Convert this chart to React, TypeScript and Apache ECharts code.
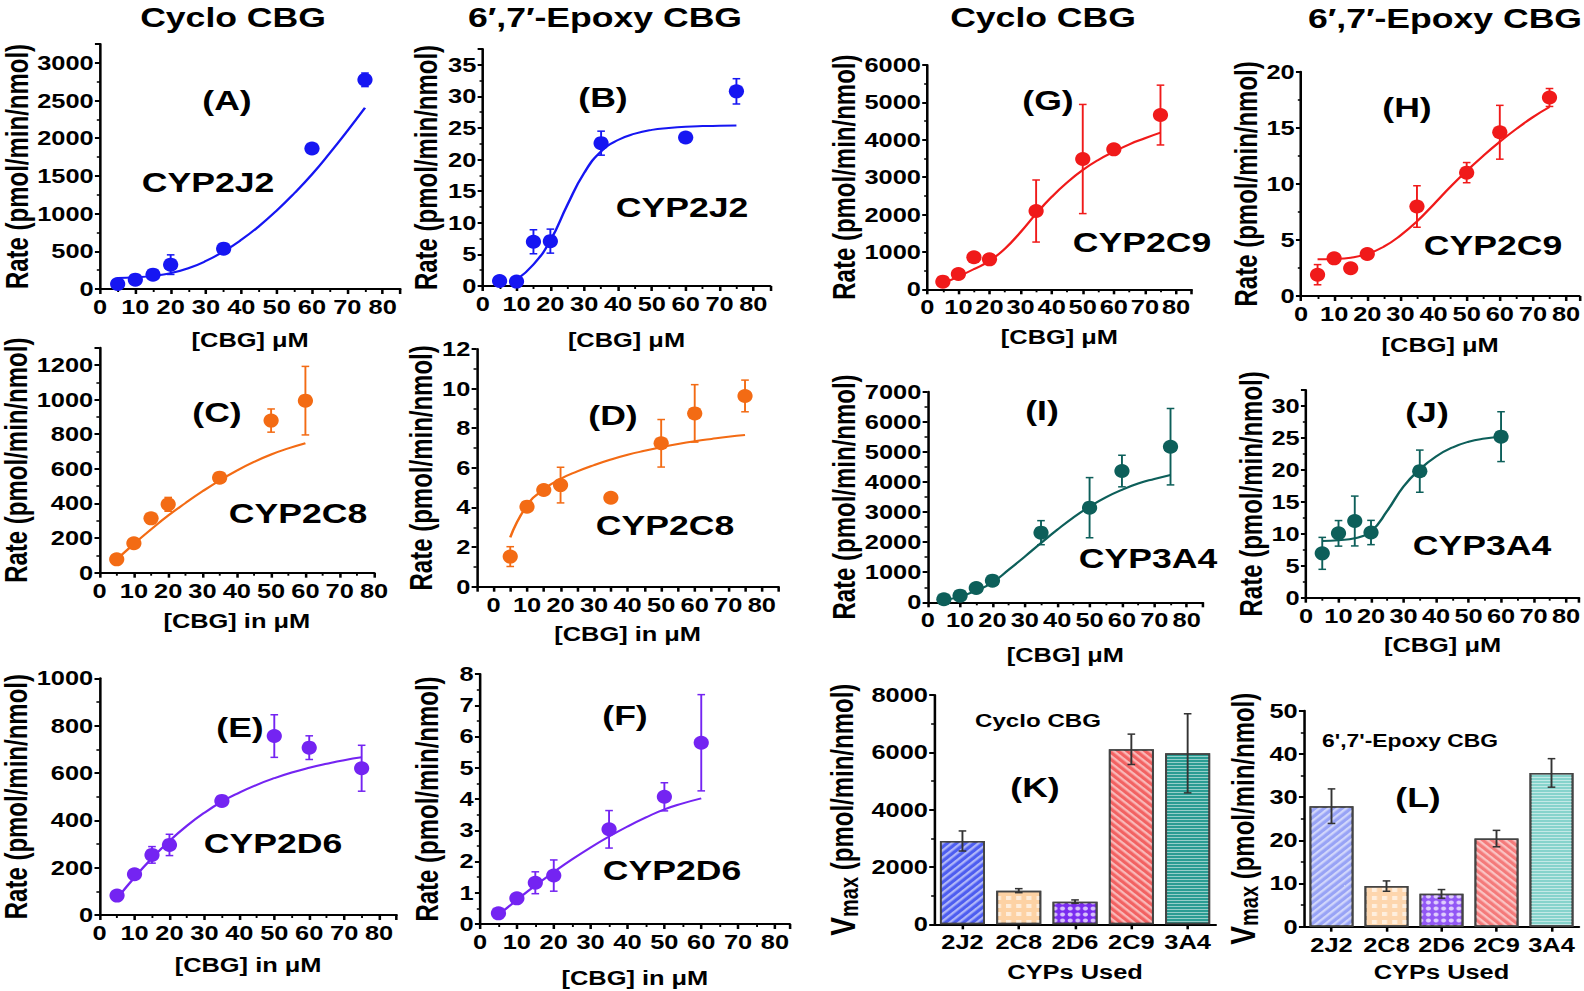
import React, { useEffect, useRef } from "react";
import * as echarts from "echarts";

const W = 1584;
const H = 991;
const CW = 1247;
const S = W / CW;
const FONT = '"Liberation Sans", Arial, Helvetica, sans-serif';

// ---------- data ----------
const cbg8 = [5, 10, 15, 20, 35, 50, 60, 75];
const cbgA = [5, 10, 15, 20, 35, 60, 75];
const cbgC = [5, 10, 15, 20, 35, 50, 60];
const cbgJ = [5, 10, 15, 20, 35, 60];
const fitX75 = [5, 10, 15, 20, 25, 30, 35, 40, 45, 50, 55, 60, 65, 70, 75];
const fitX60 = [5, 10, 15, 20, 25, 30, 35, 40, 45, 50, 55, 60];
const fitXB = [10, 15, 20, 25, 30, 35, 40, 45, 50, 55, 60, 65, 70, 75];

// (A) Cyclo CBG, CYP2J2
const rateA = [66, 124, 190, 323, 535, 1863, 2775];
const errA = [0, 0, 0, 130, 0, 0, 90];
const fitA = [146, 156, 174, 210, 275, 372, 498, 652, 833, 1040, 1270, 1520, 1800, 2095, 2403];
// (B) Epoxy CBG, CYP2J2
const rateB = [0.8, 0.7, 7.0, 7.1, 22.6, 23.5, 30.8];
const errB = [0, 0, 1.9, 1.9, 1.9, 0, 2.0];
const fitB = [1.0, 3.4, 7.2, 12.8, 17.9, 21.3, 23.1, 24.1, 24.7, 25.0, 25.2, 25.3, 25.35, 25.4];
// (C) Cyclo CBG, CYP2C8
const rateC = [77, 170, 314, 395, 549, 879, 994];
const errC = [0, 20, 0, 40, 0, 67, 198];
const fitC = [77, 166, 250, 330, 402, 470, 533, 590, 640, 683, 718, 748];
// (D) Epoxy CBG, CYP2C8
const rateD = [1.52, 4.04, 4.88, 5.13, 4.49, 7.24, 8.75, 9.63];
const errD = [0.5, 0, 0, 0.9, 0, 1.2, 1.45, 0.8];
const fitD = [2.49, 4.1, 4.92, 5.44, 5.82, 6.14, 6.42, 6.66, 6.86, 7.04, 7.2, 7.34, 7.46, 7.57, 7.66];
// (E) Cyclo CBG, CYP2D6
const rateE = [82, 172, 254, 296, 482, 756, 707, 620];
const errE = [0, 0, 35, 45, 0, 90, 50, 97];
const fitE = [70, 159, 240, 313, 377, 432, 479, 517, 550, 578, 602, 622, 639, 654, 666];
// (F) Epoxy CBG, CYP2D6
const rateF = [0.34, 0.82, 1.32, 1.55, 3.03, 4.07, 5.8];
const errF = [0, 0, 0.35, 0.5, 0.6, 0.45, 1.54];
const fitF = [0.29, 0.77, 1.23, 1.66, 2.07, 2.45, 2.8, 3.12, 3.41, 3.67, 3.86, 4.02];
// (G) Cyclo CBG, CYP2C9
const rateG = [205, 410, 856, 802, 2094, 3485, 3743, 4661];
const errG = [0, 0, 60, 0, 830, 1460, 120, 800];
const fitG = [160, 340, 540, 760, 1090, 1530, 2020, 2470, 2860, 3190, 3460, 3680, 3880, 4040, 4189];
// (H) Epoxy CBG, CYP2C9
const rateH = [1.9, 3.36, 2.47, 3.75, 7.98, 11.0, 14.6, 17.7];
const errH = [0.9, 0, 0, 0, 1.85, 0.9, 2.4, 0.8];
const fitH = [3.27, 3.3, 3.42, 3.75, 4.4, 5.4, 6.65, 8.15, 9.7, 11.15, 12.5, 13.75, 14.9, 15.95, 16.85];
// (I) Cyclo CBG, CYP3A4
const rateI = [100, 221, 476, 720, 2314, 3145, 4363, 5172];
const errI = [0, 0, 0, 0, 400, 1000, 525, 1270];
const fitI = [78, 188, 388, 660, 1080, 1520, 1970, 2410, 2820, 3180, 3490, 3740, 3950, 4100, 4230];
// (J) Epoxy CBG, CYP3A4
const rateJ = [6.94, 10.07, 12.0, 10.2, 19.8, 25.2];
const errJ = [2.5, 2.0, 3.9, 1.9, 3.3, 3.9];
const fitJ = [8.87, 9.0, 9.3, 10.4, 13.6, 17.4, 20.1, 22.1, 23.5, 24.4, 24.9, 25.2];

// (K), (L) Vmax bars
const cyps = ["2J2", "2C8", "2D6", "2C9", "3A4"];
const vmaxK = [2907, 1174, 791, 6105, 5965];
const vmaxKErr = [350, 70, 60, 530, 1380];
const vmaxL = [27.9, 9.4, 7.6, 20.4, 35.6];
const vmaxLErr = [4.0, 1.2, 1.0, 1.9, 3.3];

// ---------- styles ----------
const BLUE = "#1616f2";
const ORANGE = "#f36b14";
const PURPLE = "#7424f2";
const RED = "#f01a1a";
const TEAL = "#0d5f5a";

const scatterPanels = [
  { color: BLUE, axisX: 100, axisY: 289, top: 44, xmin: 0, xmax: 85, per: 3.533, xint: 10, ymax: 3250, yint: 500, xs: cbgA, ys: rateA, errs: errA, fx: fitX75, fy: fitA, xName: "[CBG] μM", xGap: 41, yGap: 53 },
  { color: BLUE, axisX: 482.7, axisY: 286, top: 49, xmin: 0, xmax: 85, per: 3.383, xint: 10, ymax: 37.5, yint: 5, xs: cbgA, ys: rateB, errs: errB, fx: fitXB, fy: fitB, xName: "[CBG] μM", xGap: 44, yGap: 32 },
  { color: ORANGE, axisX: 87.3, axisY: 572.7, top: 347.7, xmin: 0, xmax: 80, per: 3.584, xint: 10, ymax: 1300, yint: 200, xs: cbgC, ys: rateC, errs: errC, fx: fitX60, fy: fitC, xName: "[CBG] in μM", xGap: 38, yGap: 51 },
  { color: ORANGE, axisX: 476.7, axisY: 586.7, top: 349, xmin: -5, xmax: 85, per: 3.354, xint: 5, ymax: 12, yint: 2, xs: cbg8, ys: rateD, errs: errD, fx: fitX75, fy: fitD, xName: "[CBG] in μM", xGap: 37, yGap: 31 },
  { color: PURPLE, axisX: 86, axisY: 915, top: 678.3, xmin: 0, xmax: 85, per: 3.654, xint: 10, ymax: 1000, yint: 200, xs: cbg8, ys: rateE, errs: errE, fx: fitX75, fy: fitE, xName: "[CBG] in μM", xGap: 40, yGap: 50 },
  { color: PURPLE, axisX: 480, axisY: 924, top: 674, xmin: 0, xmax: 84, per: 3.6875, xint: 10, ymax: 8, yint: 1, xs: cbgC, ys: rateF, errs: errF, fx: fitX60, fy: fitF, xName: "[CBG] in μM", xGap: 44, yGap: 29 },
  { color: RED, axisX: 927.3, axisY: 289.3, top: 65, xmin: 0, xmax: 85, per: 3.109, xint: 10, ymax: 6000, yint: 1000, xs: cbg8, ys: rateG, errs: errG, fx: fitX75, fy: fitG, xName: "[CBG] μM", xGap: 38, yGap: 49 },
  { color: RED, axisX: 1301, axisY: 296, top: 71.7, xmin: 0, xmax: 84, per: 3.321, xint: 10, ymax: 20, yint: 5, xs: cbg8, ys: rateH, errs: errH, fx: fitX75, fy: fitH, xName: "[CBG] μM", xGap: 39, yGap: 31 },
  { color: TEAL, axisX: 927.7, axisY: 602.3, top: 391.7, xmin: 0, xmax: 85, per: 3.2375, xint: 10, ymax: 7000, yint: 1000, xs: cbg8, ys: rateI, errs: errI, fx: fitX75, fy: fitI, xName: "[CBG] μM", xGap: 43, yGap: 48 },
  { color: TEAL, axisX: 1306, axisY: 597.7, top: 390, xmin: 0, xmax: 84, per: 3.258, xint: 10, ymax: 32.5, yint: 5, xs: cbgJ, ys: rateJ, errs: errJ, fx: fitX60, fy: fitJ, xName: "[CBG] μM", xGap: 37, yGap: 31 },
];

const barPanels = [
  { axisX: 934.3, axisY: 924.3, top: 695, width: 281.5, ymax: 8000, yint: 2000, vals: vmaxK, errs: vmaxKErr, colors: ["#4d5df0", "#fdd2a4", "#7a2cf0", "#f26262", "#2a9c93"], xGap: 38, yGap: 57 },
  { axisX: 1304, axisY: 926.7, top: 710.7, width: 275, ymax: 50, yint: 10, vals: vmaxL, errs: vmaxLErr, colors: ["#98a3f6", "#fdd6ae", "#9257f5", "#f47a7a", "#86d3cc"], xGap: 35, yGap: 33 },
];

const decals = [
  { symbol: "rect", symbolSize: 1, dashArrayX: [1, 0], dashArrayY: [2, 3], rotation: -Math.PI / 4, color: "rgba(255,255,255,0.55)" },
  { symbol: "rect", symbolSize: 1, dashArrayX: [4, 4], dashArrayY: [4, 4], rotation: 0, color: "rgba(255,255,255,0.6)" },
  { symbol: "circle", symbolSize: 0.8, dashArrayX: [5, 1], dashArrayY: [5, 1], rotation: 0, color: "rgba(255,255,255,0.7)" },
  { symbol: "rect", symbolSize: 1, dashArrayX: [1, 0], dashArrayY: [2, 3], rotation: Math.PI / 4, color: "rgba(255,255,255,0.55)" },
  { symbol: "rect", symbolSize: 1, dashArrayX: [1, 0], dashArrayY: [1, 2], rotation: 0, color: "rgba(255,255,255,0.5)" },
];

const labels: [string, number, number, number][] = [
  ["Cyclo CBG", 233, 17, 28],
  ["6′,7′-Epoxy CBG", 605, 17, 28],
  ["Cyclo CBG", 1043, 17, 28],
  ["6′,7′-Epoxy CBG", 1445, 18, 28],
  ["(A)", 227, 100, 28], ["CYP2J2", 208, 182, 28],
  ["(B)", 603, 97, 28], ["CYP2J2", 682, 207, 28],
  ["(G)", 1048, 100, 28], ["CYP2C9", 1142, 242, 28],
  ["(H)", 1407, 107, 28], ["CYP2C9", 1493, 245, 28],
  ["(C)", 217, 412, 28], ["CYP2C8", 298, 513, 28],
  ["(D)", 613, 415, 28], ["CYP2C8", 665, 525, 28],
  ["(I)", 1042, 410, 28], ["CYP3A4", 1148, 558, 28],
  ["(J)", 1427, 412, 28], ["CYP3A4", 1482, 545, 28],
  ["(E)", 240, 727, 28], ["CYP2D6", 273, 843, 28],
  ["(F)", 625, 715, 28], ["CYP2D6", 672, 870, 28],
  ["Cyclo CBG", 1038, 720, 19], ["(K)", 1035, 787, 28],
  ["6',7'-Epoxy CBG", 1410, 740, 18], ["(L)", 1418, 797, 28],
];

const stepFmt = (step: number) => (v: number) =>
  Math.abs(v / step - Math.round(v / step)) < 1e-6 ? String(Math.round(v * 1000) / 1000) : "";

const axisLineStyle = { color: "#000", width: 2 };
const labelStyle = { fontSize: 20, fontWeight: "bold" as const, color: "#000", fontFamily: FONT };

function errRender(color: string, cap: number) {
  return (params: any, api: any) => {
    const x = api.value(0);
    const y = api.value(1);
    const e = api.value(2);
    if (!e) return { type: "group", children: [] };
    const t = api.coord([x, y + e]);
    const b = api.coord([x, y - e]);
    const st = { stroke: color, lineWidth: 1.5 };
    return {
      type: "group",
      children: [
        { type: "line", shape: { x1: t[0], y1: t[1], x2: b[0], y2: b[1] }, style: st },
        { type: "line", shape: { x1: t[0] - cap, y1: t[1], x2: t[0] + cap, y2: t[1] }, style: st },
        { type: "line", shape: { x1: b[0] - cap, y1: b[1], x2: b[0] + cap, y2: b[1] }, style: st },
      ],
    };
  };
}

function buildOption() {
  const grid: any[] = [];
  const xAxis: any[] = [];
  const yAxis: any[] = [];
  const series: any[] = [];

  scatterPanels.forEach((p, i) => {
    grid.push({
      left: p.axisX / S,
      top: p.top,
      width: ((p.xmax - p.xmin) * p.per) / S,
      height: p.axisY - p.top,
    });
    xAxis.push({
      gridIndex: i,
      type: "value",
      min: p.xmin,
      max: p.xmax,
      interval: p.xint,
      axisLine: { show: true, onZero: false, lineStyle: axisLineStyle },
      axisTick: { show: true, inside: false, length: 5, lineStyle: { color: "#000", width: 2 } },
      minorTick: { show: p.xint === 10, splitNumber: 2, length: 3, lineStyle: { color: "#000", width: 1.5 } },
      splitLine: { show: false },
      axisLabel: { ...labelStyle, margin: 8, formatter: stepFmt(10) },
      name: p.xName,
      nameLocation: "middle",
      nameGap: p.xGap,
      nameTextStyle: { ...labelStyle },
    });
    yAxis.push({
      gridIndex: i,
      type: "value",
      min: 0,
      max: p.ymax,
      interval: p.yint,
      axisLine: { show: true, onZero: false, lineStyle: axisLineStyle },
      axisTick: { show: true, inside: false, length: 4, lineStyle: { color: "#000", width: 2 } },
      minorTick: { show: true, splitNumber: 2, length: 2.5, lineStyle: { color: "#000", width: 1.5 } },
      splitLine: { show: false },
      axisLabel: { ...labelStyle, margin: 5, formatter: stepFmt(p.yint) },
      name: "Rate (pmol/min/nmol)",
      nameLocation: "middle",
      nameGap: p.yGap,
      nameTextStyle: { ...labelStyle, fontSize: 24 },
    });
    series.push({
      type: "line",
      xAxisIndex: i,
      yAxisIndex: i,
      data: p.fx.map((x, k) => [x, p.fy[k]]),
      smooth: 0.5,
      symbol: "none",
      lineStyle: { color: p.color, width: 2 },
      z: 2,
    });
    series.push({
      type: "custom",
      xAxisIndex: i,
      yAxisIndex: i,
      data: p.xs.map((x, k) => [x, p.ys[k], p.errs[k]]),
      encode: { x: 0, y: 1 },
      renderItem: errRender(p.color, 3),
      z: 3,
    });
    series.push({
      type: "scatter",
      xAxisIndex: i,
      yAxisIndex: i,
      data: p.xs.map((x, k) => [x, p.ys[k]]),
      symbol: "circle",
      symbolSize: [12, 14],
      itemStyle: { color: p.color, opacity: 1 },
      z: 4,
    });
  });

  barPanels.forEach((b, j) => {
    const i = scatterPanels.length + j;
    grid.push({ left: b.axisX / S, top: b.top, width: b.width / S, height: b.axisY - b.top });
    xAxis.push({
      gridIndex: i,
      type: "category",
      data: cyps,
      axisLine: { show: true, onZero: false, lineStyle: axisLineStyle },
      axisTick: { show: true, alignWithLabel: true, inside: false, length: 5, lineStyle: { color: "#000", width: 2 } },
      axisLabel: { ...labelStyle, margin: 8, interval: 0 },
      name: "CYPs Used",
      nameLocation: "middle",
      nameGap: b.xGap,
      nameTextStyle: { ...labelStyle },
    });
    yAxis.push({
      gridIndex: i,
      type: "value",
      min: 0,
      max: b.ymax,
      interval: b.yint,
      axisLine: { show: true, onZero: false, lineStyle: axisLineStyle },
      axisTick: { show: true, inside: false, length: 4, lineStyle: { color: "#000", width: 2 } },
      minorTick: { show: true, splitNumber: 2, length: 2.5, lineStyle: { color: "#000", width: 1.5 } },
      splitLine: { show: false },
      axisLabel: { ...labelStyle, margin: 5, formatter: stepFmt(b.yint) },
      name: "{v|V}{s|max} (pmol/min/nmol)",
      nameLocation: "middle",
      nameGap: b.yGap,
      nameTextStyle: {
        ...labelStyle,
        fontSize: 24,
        rich: {
          v: { fontSize: 28, fontWeight: "bold", fontFamily: FONT, color: "#000" },
          s: { fontSize: 20, fontWeight: "bold", fontFamily: FONT, color: "#000", verticalAlign: "bottom", padding: [10, 0, 0, 0] },
        },
      },
    });
    series.push({
      type: "bar",
      xAxisIndex: i,
      yAxisIndex: i,
      barWidth: "80%",
      data: b.vals.map((v, k) => ({
        value: v,
        itemStyle: { color: b.colors[k], borderColor: "#444", borderWidth: 1.5, decal: decals[k] },
      })),
      z: 2,
    });
    series.push({
      type: "custom",
      xAxisIndex: i,
      yAxisIndex: i,
      data: b.vals.map((v, k) => [k, v, b.errs[k]]),
      encode: { x: 0, y: 1 },
      renderItem: errRender("#333", 3),
      z: 3,
    });
  });

  const graphic = labels.map(([text, x, y, size]) => ({
    type: "text",
    x: x / S,
    y,
    z: 100,
    style: {
      text,
      fill: "#000",
      fontSize: size,
      fontWeight: "bold",
      fontFamily: FONT,
      align: "center",
      verticalAlign: "middle",
      textAlign: "center",
      textVerticalAlign: "middle",
    },
  }));

  return {
    animation: false,
    backgroundColor: "#fff",
    grid,
    xAxis,
    yAxis,
    series,
    graphic,
  };
}

export default function App() {
  const ref = useRef<HTMLDivElement>(null);
  useEffect(() => {
    if (!ref.current) return;
    const chart = echarts.init(ref.current, null, { renderer: "svg" });
    chart.setOption(buildOption() as any);
    return () => chart.dispose();
  }, []);
  return (
    <div style={{ position: "fixed", left: 0, top: 0, width: W, height: H, overflow: "hidden", background: "#fff" }}>
      <div ref={ref} style={{ width: CW, height: H, transform: `scaleX(${S})`, transformOrigin: "0 0" }} />
    </div>
  );
}
